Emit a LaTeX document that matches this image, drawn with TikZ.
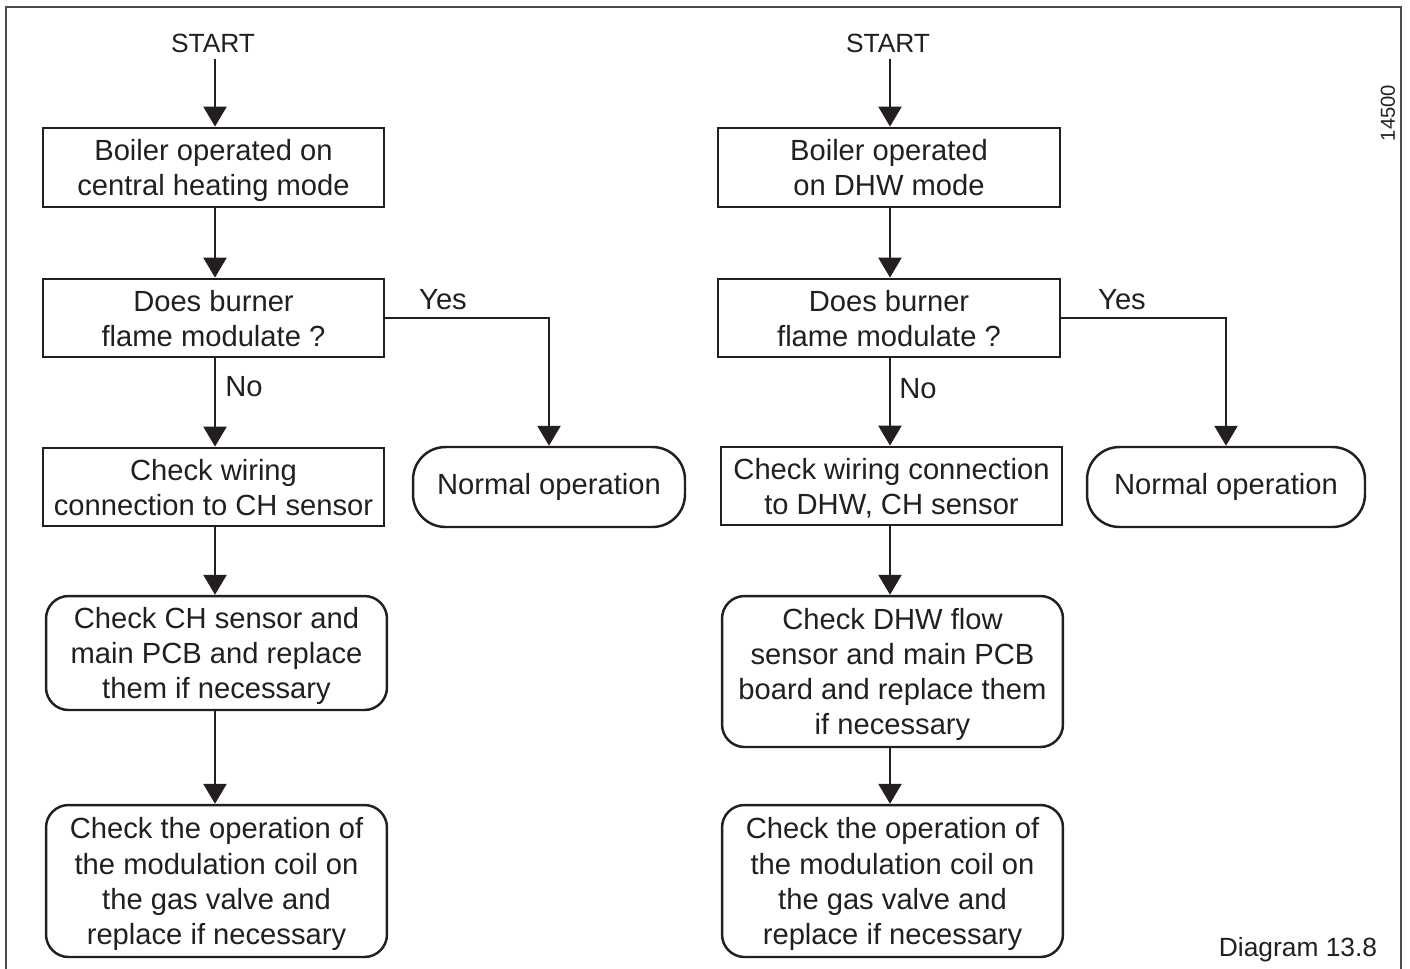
\documentclass[tikz,border=0pt]{standalone}
\usepackage{fontspec}
\setmainfont{Liberation Sans}
\usetikzlibrary{arrows.meta}
\definecolor{ink}{HTML}{231F20}
\begin{document}
\begin{tikzpicture}[x=0.02cm,y=-0.02cm,
  txt/.style={font=\fontsize{16.6}{20}\selectfont, text=ink, align=center, inner sep=0pt},
  rectbox/.style={txt, text depth=0pt, draw=ink, line width=1.6pt, rectangle},
  roundbox/.style={txt, text depth=0pt, draw=ink, line width=1.4pt, rectangle, rounded corners=0.45cm},
  endbox/.style={txt, draw=ink, line width=1.4pt, rectangle, rounded corners=0.65cm},
  arr/.style={draw=ink, line width=1.4pt, -{Triangle[length=0.4cm,width=0.46cm]}},
  lbl/.style={txt},
  startlbl/.style={txt, font=\fontsize{15}{18}\selectfont}
]
\useasboundingbox (0,0) rectangle (1410,968);
\draw[line width=0.8pt, draw=black!70] (6,975) -- (6,7) -- (1401,7) -- (1401,975);

% ---------- left column ----------
\coordinate (Lx) at (215,0);
\node[startlbl] (LS) at (213,43) {START};
\node[rectbox, minimum width=6.82cm, minimum height=1.58cm] (L1) at (213.5,167.5) {Boiler operated on\\central heating mode};
\node[rectbox, minimum width=6.82cm, minimum height=1.56cm] (L2) at (213.5,318) {Does burner\\flame modulate ?};
\node[rectbox, minimum width=6.82cm, minimum height=1.56cm] (L3) at (213.5,487) {Check wiring\\connection to CH sensor};
\node[roundbox, minimum width=6.82cm, minimum height=2.28cm] (L4) at (216.5,653) {Check CH sensor and\\main PCB and replace\\them if necessary};
\node[roundbox, minimum width=6.82cm, minimum height=3.04cm] (L5) at (216.5,881) {Check the operation of\\the modulation coil on\\the gas valve and\\replace if necessary};
\node[endbox, minimum width=5.44cm, minimum height=1.6cm] (LN) at (549,487) {Normal operation};
\node[lbl] (LY) at (443,300) {Yes};
\node[lbl] (LNo) at (244,387) {No};

\draw[arr] (LS.south -| Lx) ++(0,6) -- (L1.north -| Lx);
\draw[arr] (L1.south -| Lx) -- (L2.north -| Lx);
\draw[arr] (L2.south -| Lx) -- (L3.north -| Lx);
\draw[arr] (L3.south -| Lx) -- (L4.north -| Lx);
\draw[arr] (L4.south -| Lx) -- (L5.north -| Lx);
\draw[arr] (L2.east) -| (LN.north);

% ---------- right column ----------
\coordinate (Rx) at (890,0);
\node[startlbl] (RS) at (888,43) {START};
\node[rectbox, minimum width=6.84cm, minimum height=1.58cm] (R1) at (889,167.5) {Boiler operated\\on DHW mode};
\node[rectbox, minimum width=6.84cm, minimum height=1.56cm] (R2) at (889,318) {Does burner\\flame modulate ?};
\node[rectbox, minimum width=6.82cm, minimum height=1.56cm] (R3) at (891.5,486) {Check wiring connection\\to DHW, CH sensor};
\node[roundbox, minimum width=6.82cm, minimum height=3.02cm] (R4) at (892.5,671.5) {Check DHW flow\\sensor and main PCB\\board and replace them\\if necessary};
\node[roundbox, minimum width=6.82cm, minimum height=3.04cm] (R5) at (892.5,881) {Check the operation of\\the modulation coil on\\the gas valve and\\replace if necessary};
\node[endbox, minimum width=5.56cm, minimum height=1.6cm] (RN) at (1226,487) {Normal operation};
\node[lbl] (RY) at (1122,300) {Yes};
\node[lbl] (RNo) at (918,389) {No};

\draw[arr] (RS.south -| Rx) ++(0,6) -- (R1.north -| Rx);
\draw[arr] (R1.south -| Rx) -- (R2.north -| Rx);
\draw[arr] (R2.south -| Rx) -- (R3.north -| Rx);
\draw[arr] (R3.south -| Rx) -- (R4.north -| Rx);
\draw[arr] (R4.south -| Rx) -- (R5.north -| Rx);
\draw[arr] (R2.east) -| (RN.north);

% ---------- annotations ----------
\node[txt, font=\fontsize{11.5}{14}\selectfont, rotate=90] (num) at (1388,113) {14500};
\node[txt, font=\fontsize{15}{18}\selectfont] (cap) at (1298,950) {Diagram 13.8};
\end{tikzpicture}
\end{document}
